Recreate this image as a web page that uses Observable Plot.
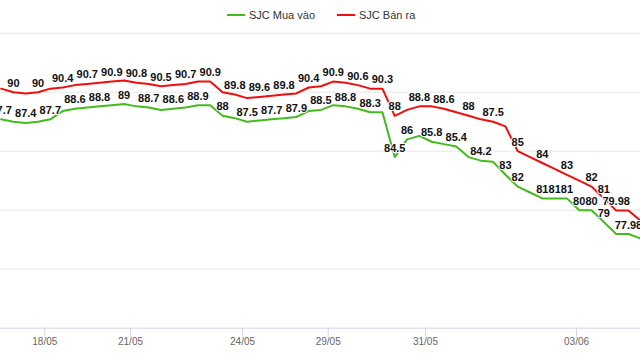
<!DOCTYPE html>
<html>
<head>
<meta charset="utf-8">
<script src="https://cdn.jsdelivr.net/npm/d3@7"></script>
<script src="https://cdn.jsdelivr.net/npm/@observablehq/plot@0.6"></script>
<style>
  body { margin: 0; background: #fff; font-family: "Liberation Sans", Arial, sans-serif; }
  #wrap { position: relative; width: 640px; height: 360px; overflow: hidden; }
  #legend { position: absolute; top: 8px; left: 227px; display: flex; align-items: center; font-size: 11px; color: #333; line-height: 14px; z-index: 2; }
  .item { display: flex; align-items: center; margin-right: 22px; }
  .sym { display: inline-block; width: 18px; height: 2px; margin-right: 4px; }
  #chart svg { display: block; }
</style>
</head>
<body>
<div id="wrap">
  <div id="legend"></div>
  <div id="chart"></div>
</div>
<script>
// Series names (legend order)
const seriesNames = ["SJC Mua vào", "SJC Bán ra"];
const seriesColors = ["#44bb1c", "#f20d0d"];

// Values per ordinal slot (one entry per data point, left to right)
const buyValues = [
  87.7, 87.5, 87.4, 87.5, 87.7, 88.4, 88.6, 88.7, 88.8, 88.9,
  89, 88.8, 88.7, 88.5, 88.6, 88.7, 88.9, 88.9, 88, 87.8,
  87.5, 87.6, 87.7, 87.8, 87.9, 88.4, 88.5, 88.9, 88.8, 88.6,
  88.3, 88.3, 84.5, 86, 86.3, 85.8, 85.6, 85.4, 84.5, 84.2,
  84.1, 83, 82, 81.5, 81, 81, 81, 80, 80, 79,
  77.98, 77.98, 77.6
];
const sellValues = [
  90.3, 90, 89.9, 90, 90.3, 90.4, 90.6, 90.7, 90.8, 90.9,
  91, 90.8, 90.7, 90.5, 90.6, 90.7, 90.9, 90.9, 90, 89.8,
  89.5, 89.6, 89.7, 89.8, 89.9, 90.4, 90.5, 90.9, 90.8, 90.6,
  90.3, 90.3, 88, 88.5, 88.8, 88.8, 88.6, 88.3, 88, 87.7,
  87.5, 87.1, 85, 84.5, 84, 83.5, 83, 82.5, 82, 81,
  79.98, 79.98, 79.1
];

// Slots whose value label is visible in the chart
const buyLabelSlots = [0, 2, 4, 6, 8, 10, 12, 14, 16, 18, 20, 22, 24, 26, 28, 30,
  32, 33, 35, 37, 39, 41, 42, 44, 45, 46, 47, 48, 49, 51];
const sellLabelSlots = [1, 3, 5, 7, 9, 11, 13, 15, 17, 19, 21, 23, 25, 27, 29, 31,
  32, 34, 36, 38, 40, 42, 44, 46, 48, 49, 50];

// Date ticks (position in slot units) and their labels
const tickSlots = [3.55, 10.52, 19.63, 26.59, 34.5, 46.78];
const tickLabels = ["18/05", "21/05", "24/05", "29/05", "31/05", "03/06"];

// Horizontal grid values
const gridValues = [75, 80, 85, 90, 95];
const yDomain = [70, 95];

// Legend (HTML)
const legend = document.getElementById("legend");
seriesNames.forEach((name, i) => {
  const it = document.createElement("div");
  it.className = "item";
  const s = document.createElement("span");
  s.className = "sym";
  s.style.background = seriesColors[i];
  const t = document.createElement("span");
  t.textContent = name;
  it.appendChild(s); it.appendChild(t);
  legend.appendChild(it);
});

const tickMap = new Map(tickSlots.map((p, i) => [p, tickLabels[i]]));
const buyPts = buyValues.map((v, k) => ({k, v}));
const sellPts = sellValues.map((v, k) => ({k, v}));
const buyLabels = buyLabelSlots.map(k => ({k, v: buyValues[k]}));
const sellLabels = sellLabelSlots.map(k => ({k, v: sellValues[k]}));

const labelStyle = {
  x: "k", y: "v", text: d => String(d.v), dy: -9,
  fontSize: 11, fontWeight: "bold", fill: "#111",
  stroke: "white", strokeWidth: 2
};

const chart = Plot.plot({
  width: 640,
  height: 360,
  marginTop: 32.7,
  marginBottom: 32.3,
  marginLeft: 0,
  marginRight: 0,
  style: {fontFamily: "'Liberation Sans', Arial, sans-serif", background: "transparent", overflow: "hidden"},
  x: {domain: [-0.05, 51.98]},
  y: {domain: yDomain, axis: null},
  marks: [
    Plot.ruleY(gridValues, {stroke: "#e6e6e6", strokeWidth: 1}),
    Plot.ruleY([yDomain[0]], {stroke: "#ccd6eb", strokeWidth: 1}),
    Plot.axisX(tickSlots, {
      anchor: "bottom", tickSize: 9, tickPadding: 1,
      stroke: "#ccd6eb", fill: "#666", fontSize: 10,
      tickFormat: d => tickMap.get(d), label: null
    }),
    Plot.line(buyPts, {x: "k", y: "v", stroke: seriesColors[0], strokeWidth: 2, clip: true}),
    Plot.line(sellPts, {x: "k", y: "v", stroke: seriesColors[1], strokeWidth: 2, clip: true}),
    Plot.text(buyLabels, labelStyle),
    Plot.text(sellLabels, labelStyle)
  ]
});
document.getElementById("chart").appendChild(chart);
</script>
</body>
</html>
